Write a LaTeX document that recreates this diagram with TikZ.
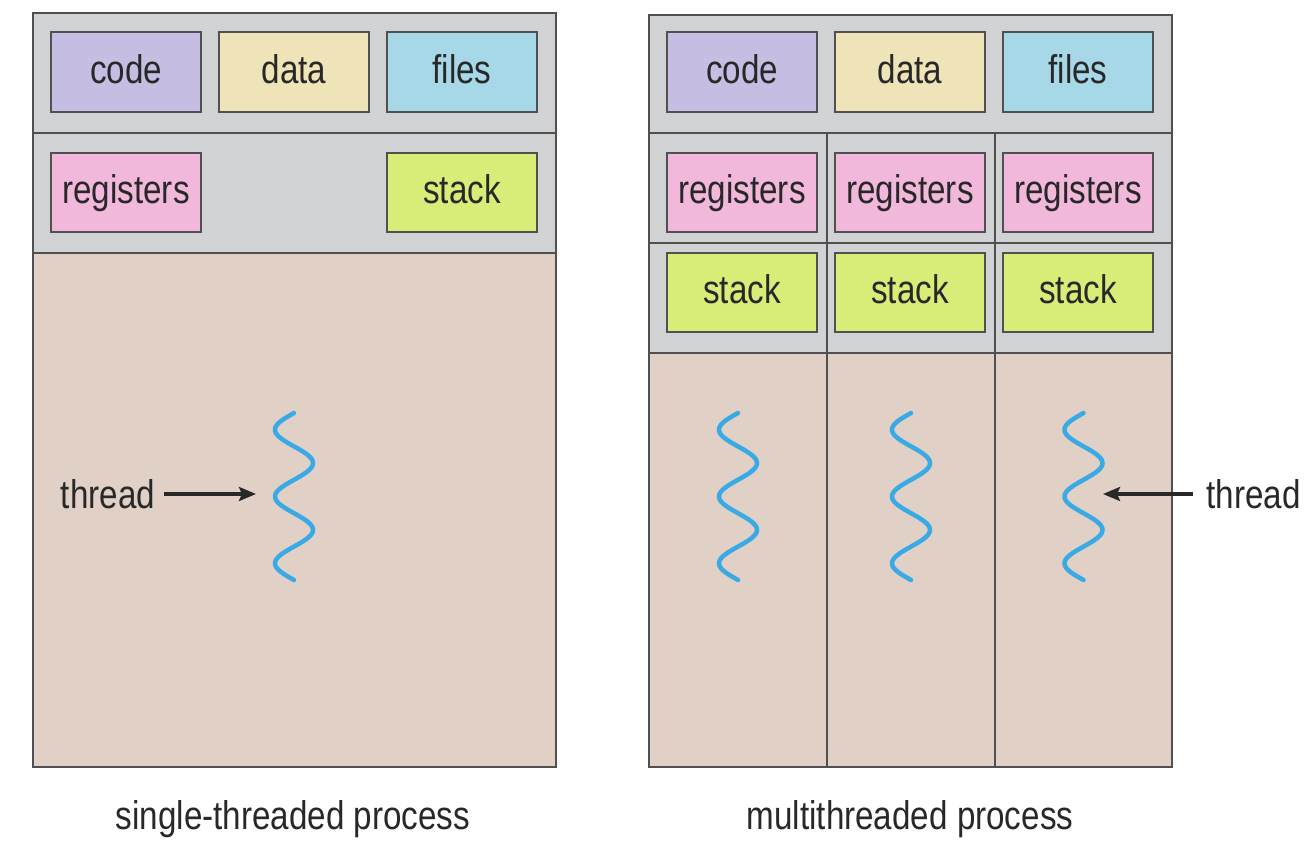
\documentclass[tikz,border=0pt]{standalone}
\usepackage{fontspec}
\setmainfont{Liberation Sans}
\newfontfamily\narrowsans[FakeStretch=0.83]{Liberation Sans}
\usetikzlibrary{arrows.meta}

\definecolor{codefill}{RGB}{197,189,226}
\definecolor{datafill}{RGB}{239,228,184}
\definecolor{filefill}{RGB}{166,216,232}
\definecolor{regfill}{RGB}{242,184,220}
\definecolor{stackfill}{RGB}{216,236,120}
\definecolor{shared}{RGB}{209,210,212}
\definecolor{body}{RGB}{224,208,198}
\definecolor{edge}{RGB}{80,80,80}
\definecolor{ink}{RGB}{40,40,40}
\definecolor{threadblue}{RGB}{58,170,230}

\newcommand\lblfont{\narrowsans\fontsize{40}{48}\selectfont}

\begin{document}
\begin{tikzpicture}[x=1pt,y=-1pt,
  seg/.style={draw=edge, line width=2pt, minimum width=150pt, minimum height=79pt,
    inner sep=0pt, text height=28pt, text depth=6pt, font=\lblfont, text=ink},
  frame/.style={draw=edge, line width=2pt},
  wave/.style={draw=threadblue, line width=4.5pt, line cap=round},
  lbl/.style={font=\lblfont, text=ink, anchor=base, text height=28pt, text depth=0pt, inner ysep=0pt},
  pointer/.style={draw=ink, line width=3.2pt, -{Stealth[length=17pt, width=14pt, inset=3pt]}}]

\useasboundingbox (0,0) rectangle (1314,859);

% ---------- single-threaded process ----------
\fill[body]   (33,253) rectangle (556,767);
\fill[shared] (33,13)  rectangle (556,253);
\draw[frame] (33,133) -- (556,133);
\draw[frame] (33,253) -- (556,253);
\draw[frame] (33,13) rectangle (556,767);

\node[seg, fill=codefill]  (s-code)  at (126,72)  {code};
\node[seg, fill=datafill]  (s-data)  at (294,72)  {data};
\node[seg, fill=filefill]  (s-files) at (462,72)  {files};
\node[seg, fill=regfill]   (s-reg)   at (126,192) {registers};
\node[seg, fill=stackfill] (s-stack) at (462,192) {stack};

\draw[wave] plot[domain=0:900, samples=120, smooth] ({294-19*sin(\x)}, {413+\x/900*167});

\node[lbl, inner xsep=9pt] (s-lbl) at (108,508) {thread};
\coordinate (s-tip) at (256,494);
\draw[pointer] (s-lbl.east) -- (s-tip);

\node[lbl] (s-cap) at (293,829) {single-threaded process};

% ---------- multithreaded process ----------
\fill[body]   (649,353) rectangle (1172,767);
\fill[shared] (649,15)  rectangle (1172,353);
\draw[frame] (649,133) -- (1172,133);
\draw[frame] (649,243) -- (1172,243);
\draw[frame] (649,353) -- (1172,353);
\draw[frame] (827,133) -- (827,767);
\draw[frame] (995,133) -- (995,767);
\draw[frame] (649,15) rectangle (1172,767);

\node[seg, fill=codefill]  (m-code)  at (742,72)  {code};
\node[seg, fill=datafill]  (m-data)  at (910,72)  {data};
\node[seg, fill=filefill]  (m-files) at (1078,72) {files};

\foreach \c/\n in {742/1, 910/2, 1078/3} {
  \node[seg, fill=regfill]   (m-reg\n)   at (\c,192) {registers};
  \node[seg, fill=stackfill] (m-stack\n) at (\c,292) {stack};
}

\foreach \c in {738, 911, 1083.5}
  \draw[wave] plot[domain=0:900, samples=120, smooth] ({\c-19*sin(\x)}, {413+\x/900*167});

\node[lbl, inner xsep=13pt] (m-lbl) at (1253.5,508) {thread};
\coordinate (m-tip) at (1103,494);
\draw[pointer] (m-lbl.west) -- (m-tip);

\node[lbl] (m-cap) at (910,829) {multithreaded process};

\end{tikzpicture}
\end{document}
